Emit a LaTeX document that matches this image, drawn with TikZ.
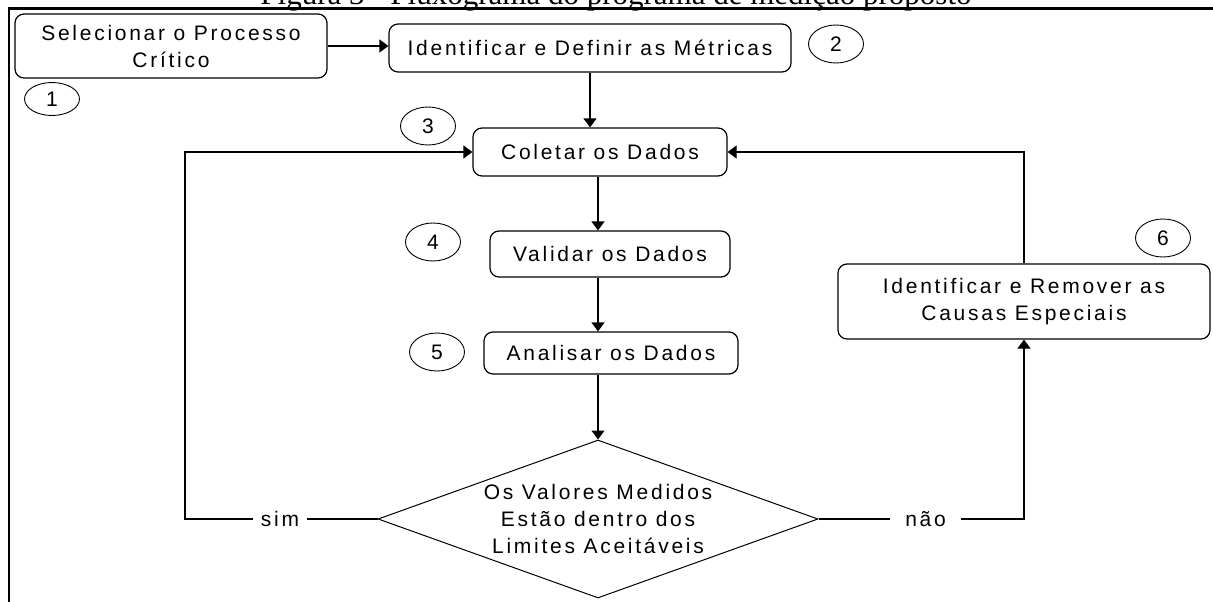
\documentclass[tikz,border=0pt]{standalone}
\usepackage{fontspec}
\setmainfont{Liberation Sans}
\newfontfamily\lblface{Liberation Sans}[LetterSpace=13]
\newfontfamily\capface{Liberation Serif}
\newcommand\lblfont{\lblface\fontsize{21pt}{27pt}\selectfont}
\newcommand\capfont{\capface\fontsize{31pt}{31pt}\selectfont}
\usetikzlibrary{shapes.geometric,arrows.meta}

\begin{document}
\begin{tikzpicture}[x=1pt,y=-1pt,
  box/.style={draw, rounded corners=9pt, line width=1.2pt, inner sep=0pt,
              align=center, font=\lblfont},
  num/.style={draw, ellipse, line width=0.9pt, minimum width=55pt,
              minimum height=38pt, inner sep=0pt, font=\lblfont},
  arr/.style={line width=1.2pt, -{Triangle[width=13pt,length=9pt]}},
  plain/.style={line width=1.2pt},
  frame/.style={line width=2.5pt, line join=miter}]

\useasboundingbox (0,0) rectangle (1213,602);
\clip (0,0) rectangle (1213,602);

% caption (only its lower part shows above the frame)
\node[anchor=base, font=\capfont, inner sep=0pt] (title) at (616,4.5)
  {Figura 3 - Fluxograma do programa de medição proposto};

% frame
\draw[frame] (9.2,602) -- (9.2,8.7) -- (1213,8.7);

% process steps
\node[box, minimum width=312pt, minimum height=64pt] (b1) at (171,46)
  {Selecionar o Processo\\Crítico};
\node[box, minimum width=402pt, minimum height=48pt] (b2) at (590,48)
  {Identificar e Definir as Métricas};
\node[box, minimum width=254pt, minimum height=48pt] (b3) at (600,152)
  {Coletar os Dados};
\node[box, minimum width=240pt, minimum height=46pt] (b4) at (610,254)
  {Validar os Dados};
\node[box, minimum width=254pt, minimum height=42pt] (b5) at (611,353)
  {Analisar os Dados};
\node[box, minimum width=372pt, minimum height=75pt] (b6) at (1024,301.5)
  {Identificar e Remover as\\Causas Especiais};

% decision
\node[draw, diamond, line width=1pt, minimum width=440pt, minimum height=158pt,
      inner sep=0pt] (dec) at (598,519) {};
\node[align=center, font=\lblfont, inner sep=0pt] (dectext) at (dec.center)
  {Os Valores Medidos\\Estão dentro dos\\Limites Aceitáveis};

% step numbers
\node[num, minimum height=33pt] (n1) at (52,99) {1};
\node[num] (n2) at (836,44) {2};
\node[num] (n3) at (428,126) {3};
\node[num] (n4) at (433,242) {4};
\node[num] (n5) at (437,352) {5};
\node[num] (n6) at (1163,238) {6};

% branch labels
\node[font=\lblfont, inner xsep=8pt, inner ysep=0pt] (sim) at (280,519) {sim};
\node[font=\lblfont, inner xsep=15pt, inner ysep=0pt] (nao) at (925.5,519) {não};

% connectors
\coordinate (sp) at (598,0);
\coordinate (lc) at (185,519);
\draw[arr] (b1.east) -- (b1.east -| b2.west);
\draw[arr] (b2.south) -- (b2.south |- b3.north);
\draw[arr] (b3.south -| sp) -- (b4.north -| sp);
\draw[arr] (b4.south -| sp) -- (b5.north -| sp);
\draw[arr] (b5.south -| sp) -- (dec.north);

\draw[plain] (dec.west) -- (sim.east);
\draw[arr] (sim.west) -- (lc) |- (b3.west);

\draw[plain] (dec.east) -- (nao.west);
\draw[arr] (nao.east) -| (b6.south);
\draw[arr] (b6.north) |- (b3.east);
\end{tikzpicture}
\end{document}
